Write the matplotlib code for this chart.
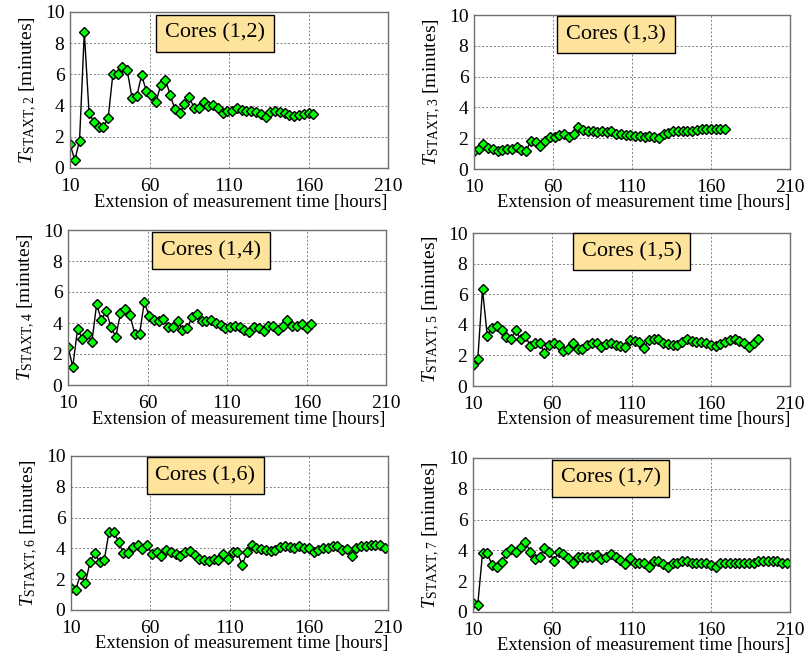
import matplotlib
matplotlib.use("Agg")
import matplotlib.pyplot as plt

plt.rcParams['font.family'] = ['Liberation Serif', 'DejaVu Serif']
plt.rcParams['mathtext.fontset'] = 'custom'
plt.rcParams['mathtext.rm'] = 'Liberation Serif'
plt.rcParams['mathtext.it'] = 'Liberation Serif:italic'
plt.rcParams['mathtext.bf'] = 'Liberation Serif:bold'

hours = [10, 13, 16, 19, 22, 25, 28, 31, 34, 37, 40, 43, 46, 49, 52, 55, 58, 61, 64, 67,
         70, 73, 76, 79, 82, 85, 88, 91, 94, 97, 100, 103, 106, 109, 112, 115, 118, 121,
         124, 127, 130, 133, 136, 139, 142, 145, 148, 151, 154, 157, 160, 163, 166, 169,
         172, 175, 178, 181, 184, 187, 190, 193, 196, 199, 202, 205, 208]

t_12 = [1.55, 0.5, 1.75, 8.7, 3.5, 2.95, 2.65, 2.6, 3.2, 6.05, 6.05, 6.5, 6.25, 4.5, 4.6,
        5.95, 4.95, 4.7, 4.2, 5.3, 5.65, 4.7, 3.75, 3.5, 4.1, 4.55, 3.85, 3.85, 4.25, 4.0,
        4.05, 3.85, 3.5, 3.65, 3.67, 3.85, 3.74, 3.67, 3.67, 3.6, 3.46, 3.25, 3.6, 3.63,
        3.6, 3.53, 3.42, 3.31, 3.38, 3.46, 3.53, 3.46]
t_13 = [1.2, 1.3, 1.65, 1.35, 1.3, 1.2, 1.25, 1.3, 1.3, 1.4, 1.25, 1.15, 1.85, 1.75, 1.5,
        1.85, 2.05, 2.1, 2.2, 2.3, 2.05, 2.3, 2.75, 2.55, 2.45, 2.5, 2.4, 2.45, 2.4, 2.45,
        2.3, 2.25, 2.2, 2.2, 2.15, 2.15, 2.1, 2.15, 2.1, 2.0, 2.3, 2.35, 2.45, 2.5, 2.45,
        2.47, 2.5, 2.55, 2.6, 2.6, 2.62, 2.62, 2.62, 2.6]
t_14 = [2.47, 1.18, 3.6, 3.0, 3.3, 2.77, 5.2, 4.2, 4.77, 3.76, 3.1, 4.62, 4.9, 4.5, 3.3,
        3.3, 5.35, 4.45, 4.2, 4.15, 4.25, 3.75, 3.75, 4.15, 3.55, 3.65, 4.4, 4.55, 4.1,
        4.1, 4.2, 4.0, 3.85, 3.65, 3.75, 3.82, 3.74, 3.56, 3.39, 3.74, 3.67, 3.46, 3.78,
        3.82, 3.56, 3.82, 4.21, 3.78, 3.82, 3.93, 3.67, 3.93]
t_15 = [1.39, 1.74, 6.32, 3.27, 3.81, 3.94, 3.64, 3.2, 3.07, 3.64, 3.05, 3.3, 2.62, 2.8,
        2.82, 2.18, 2.68, 2.83, 2.66, 2.27, 2.42, 2.83, 2.42, 2.4, 2.68, 2.83, 2.83, 2.53,
        2.75, 2.83, 2.7, 2.6, 2.53, 2.98, 2.94, 2.88, 2.5, 3.03, 3.09, 3.05, 2.81, 2.72,
        2.7, 2.66, 2.88, 3.09, 2.94, 2.88, 2.88, 2.81, 2.7, 2.59, 2.72, 2.88, 3.03, 3.09,
        2.94, 2.81, 2.55, 2.81, 3.05]
t_16 = [1.43, 1.32, 2.33, 1.73, 3.11, 3.71, 3.11, 3.26, 5.08, 5.08, 4.43, 3.69, 3.69,
        4.08, 4.21, 3.95, 4.19, 3.65, 3.76, 3.52, 3.87, 3.76, 3.61, 3.52, 3.74, 3.84, 3.56,
        3.28, 3.26, 3.17, 3.3, 3.26, 3.61, 3.30, 3.74, 3.74, 2.92, 3.74, 4.25, 4.04, 3.95,
        3.89, 3.84, 3.89, 4.1, 4.15, 4.1, 4.04, 4.15, 4.0, 4.0, 3.74, 3.89, 4.04, 4.04,
        4.15, 4.17, 3.89, 3.95, 3.52, 4.0, 4.15, 4.17, 4.25, 4.21, 4.25, 4.0]
t_17 = [0.58, 0.47, 3.81, 3.81, 3.06, 2.93, 3.23, 3.81, 4.07, 3.92, 4.25, 4.57, 3.92,
        3.45, 3.56, 4.14, 3.88, 3.34, 3.88, 3.75, 3.49, 3.17, 3.56, 3.56, 3.56, 3.56, 3.71,
        3.45, 3.56, 3.79, 3.6, 3.38, 3.1, 3.49, 3.21, 3.17, 3.21, 2.95, 3.28, 3.32, 3.1,
        2.95, 3.17, 3.21, 3.32, 3.28, 3.21, 3.17, 3.17, 3.21, 3.02, 2.91, 3.17, 3.17, 3.21,
        3.17, 3.17, 3.21, 3.17, 3.17, 3.28, 3.32, 3.34, 3.34, 3.28, 3.21, 3.17]

series = [t_12, t_13, t_14, t_15, t_16, t_17]
core_labels = ["Cores (1,2)", "Cores (1,3)", "Cores (1,4)", "Cores (1,5)", "Cores (1,6)", "Cores (1,7)"]
sub_labels = ["2", "3", "4", "5", "6", "7"]
x_ticks = [10, 60, 110, 160, 210]
y_ticks = [0, 2, 4, 6, 8, 10]

W, H = 808, 658
fig = plt.figure(figsize=(W / 100, H / 100), dpi=100)

# pixel boxes: left, top, right, bottom
boxes = [(70, 12, 388, 168), (474, 15, 790, 169),
         (68, 230, 386, 385), (473, 233, 790, 386),
         (71, 456, 388, 610), (473, 458, 790, 612)]
label_pos = [(0.456, 0.865), (0.45, 0.872), (0.45, 0.865),
             (0.50, 0.877), (0.424, 0.872), (0.434, 0.869)]

for i, (vals, (l, t, r, b)) in enumerate(zip(series, boxes)):
    ax = fig.add_axes([l / W, 1 - b / H, (r - l) / W, (b - t) / H])
    ax.plot(hours[:len(vals)], vals, color='black', lw=1.0, marker='D',
            markersize=5, markerfacecolor='#00ff00', markeredgecolor='black',
            markeredgewidth=1.0)
    ax.set_xlim(10, 210)
    ax.set_ylim(0, 10)
    ax.set_xticks(x_ticks)
    ax.set_yticks(y_ticks)
    ax.tick_params(labelsize=14, length=0)
    ax.tick_params(axis='x', pad=7)
    ax.tick_params(axis='y', pad=4)
    ax.grid(True, color='#808080', linestyle=(0, (2, 2)), linewidth=0.7)
    for s in ax.spines.values():
        s.set_color('#707070')
        s.set_linewidth(1.0)
    ax.set_xlabel("Extension of measurement time [hours]", fontsize=13.3)
    ax.xaxis.set_label_coords(0.538, -0.165)
    ax.set_ylabel(r"$T_{\mathrm{STAXT," + sub_labels[i] + r"}}$ [minutes]", fontsize=14,
                  labelpad=4)
    ax.text(label_pos[i][0], label_pos[i][1], core_labels[i], transform=ax.transAxes,
            ha='center', va='center', fontsize=16,
            bbox=dict(boxstyle='square,pad=0.4', facecolor='#fde39b',
                      edgecolor='black', linewidth=1.0))

fig.savefig("out.png", dpi=100)
